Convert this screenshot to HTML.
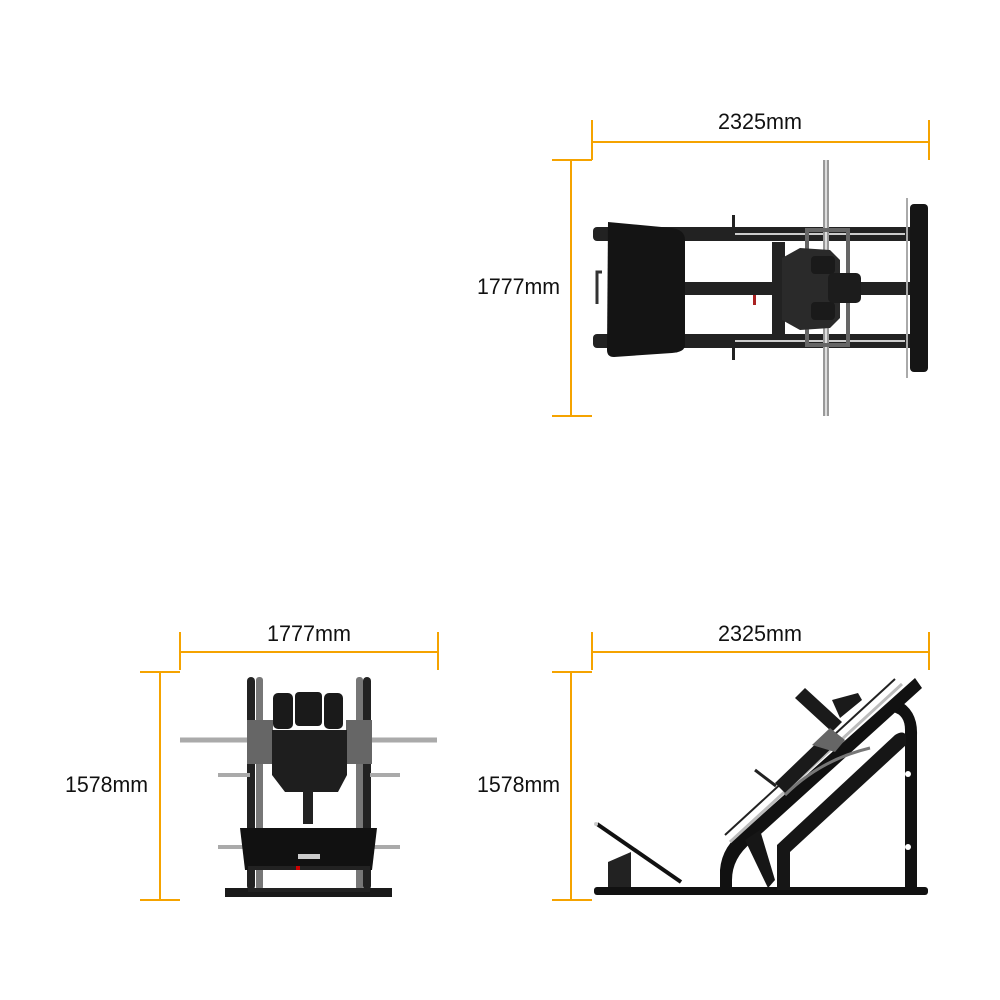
<!DOCTYPE html>
<html><head><meta charset="utf-8"><style>
html,body{margin:0;padding:0;background:#fff;}
svg{display:block;}
text{font-family:"Liberation Sans",sans-serif;font-size:22px;fill:#111;}
</style></head><body>
<svg width="1000" height="1000" viewBox="0 0 1000 1000" xmlns="http://www.w3.org/2000/svg">
<g stroke="#f5a300" stroke-width="2" fill="none">
 <line x1="592" y1="142" x2="929" y2="142"/>
 <line x1="592" y1="120" x2="592" y2="160"/>
 <line x1="929" y1="120" x2="929" y2="160"/>
 <line x1="571" y1="160" x2="571" y2="416"/>
 <line x1="552" y1="160" x2="592" y2="160"/>
 <line x1="552" y1="416" x2="592" y2="416"/>
 <line x1="180" y1="652" x2="438" y2="652"/>
 <line x1="180" y1="632" x2="180" y2="670"/>
 <line x1="438" y1="632" x2="438" y2="670"/>
 <line x1="160" y1="672" x2="160" y2="900"/>
 <line x1="140" y1="672" x2="180" y2="672"/>
 <line x1="140" y1="900" x2="180" y2="900"/>
 <line x1="592" y1="652" x2="929" y2="652"/>
 <line x1="592" y1="632" x2="592" y2="670"/>
 <line x1="929" y1="632" x2="929" y2="670"/>
 <line x1="571" y1="672" x2="571" y2="900"/>
 <line x1="552" y1="672" x2="592" y2="672"/>
 <line x1="552" y1="900" x2="592" y2="900"/>
</g>
<text x="718" y="129" textLength="84" lengthAdjust="spacingAndGlyphs">2325mm</text>
<text x="477" y="294" textLength="83" lengthAdjust="spacingAndGlyphs">1777mm</text>
<text x="267" y="641" textLength="84" lengthAdjust="spacingAndGlyphs">1777mm</text>
<text x="65" y="792" textLength="83" lengthAdjust="spacingAndGlyphs">1578mm</text>
<text x="718" y="641" textLength="84" lengthAdjust="spacingAndGlyphs">2325mm</text>
<text x="477" y="792" textLength="83" lengthAdjust="spacingAndGlyphs">1578mm</text>

<!-- TOP VIEW -->
<g>
 <rect x="772" y="242" width="13" height="92" fill="#222"/>
 <rect x="593" y="227" width="327" height="14" rx="4" fill="#222"/>
 <rect x="593" y="334" width="327" height="14" rx="4" fill="#222"/>
 <rect x="685" y="282" width="225" height="13" fill="#222"/>
 <line x1="735" y1="234" x2="905" y2="234" stroke="#ccc" stroke-width="2"/>
 <line x1="735" y1="341" x2="905" y2="341" stroke="#ccc" stroke-width="2"/>
 <line x1="826" y1="160" x2="826" y2="416" stroke="#999" stroke-width="6"/>
 <line x1="826" y1="160" x2="826" y2="416" stroke="#ddd" stroke-width="2"/>
 <rect x="807" y="230" width="41" height="115" fill="none" stroke="#666" stroke-width="4"/>
 <path d="M782 258 L800 248 L830 250 L840 260 L840 318 L830 328 L800 330 L782 320 Z" fill="#2a2a2a"/>
 <rect x="811" y="256" width="24" height="18" rx="4" fill="#1a1a1a"/>
 <rect x="811" y="302" width="24" height="18" rx="4" fill="#1a1a1a"/>
 <rect x="828" y="273" width="33" height="30" rx="5" fill="#1c1c1c"/>
 <path d="M608 222 L672 228 Q685 230 685 240 L685 345 Q685 352 672 353 L614 357 Q607 357 607 350 Z" fill="#141414"/>
 <rect x="910" y="204" width="18" height="168" rx="4" fill="#151515"/>
 <line x1="907" y1="198" x2="907" y2="378" stroke="#aaa" stroke-width="2"/>
 <path d="M602 272 h-5 v32" stroke="#333" stroke-width="3" fill="none"/>
 <rect x="753" y="295" width="3" height="10" fill="#a22"/>
 <rect x="732" y="215" width="3" height="12" fill="#222"/>
 <rect x="732" y="348" width="3" height="12" fill="#222"/>
</g>

<!-- FRONT VIEW -->
<g>
 <rect x="225" y="888" width="167" height="9" fill="#1a1a1a"/>
 <rect x="247" y="677" width="8" height="213" rx="4" fill="#222"/>
 <rect x="256" y="677" width="7" height="213" rx="3" fill="#777"/>
 <rect x="356" y="677" width="7" height="213" rx="3" fill="#777"/>
 <rect x="363" y="677" width="8" height="213" rx="4" fill="#222"/>
 <line x1="180" y1="740" x2="437" y2="740" stroke="#aaa" stroke-width="5"/>
 <line x1="218" y1="775" x2="250" y2="775" stroke="#aaa" stroke-width="4"/>
 <line x1="370" y1="775" x2="400" y2="775" stroke="#aaa" stroke-width="4"/>
 <line x1="218" y1="847" x2="250" y2="847" stroke="#aaa" stroke-width="4"/>
 <line x1="370" y1="847" x2="400" y2="847" stroke="#aaa" stroke-width="4"/>
 <rect x="247" y="720" width="26" height="44" fill="#666"/>
 <rect x="346" y="720" width="26" height="44" fill="#666"/>
 <rect x="273" y="693" width="20" height="36" rx="5" fill="#1a1a1a"/>
 <rect x="295" y="692" width="27" height="34" rx="4" fill="#1a1a1a"/>
 <rect x="324" y="693" width="19" height="36" rx="5" fill="#1a1a1a"/>
 <path d="M272 730 L347 730 L347 775 L338 792 L285 792 L272 775 Z" fill="#1e1e1e"/>
 <rect x="303" y="790" width="10" height="34" fill="#222"/>
 <path d="M240 828 L377 828 L372 870 L245 870 Z" fill="#111"/>
 <rect x="250" y="868" width="118" height="22" fill="none" stroke="#222" stroke-width="4"/>
 <rect x="298" y="854" width="22" height="5" fill="#ccc"/>
 <rect x="296" y="866" width="4" height="4" fill="#c00"/>
</g>

<!-- SIDE VIEW -->
<g>
 <rect x="594" y="887" width="334" height="8" rx="3" fill="#111"/>
 <path d="M905 890 L905 730 Q905 715 893 712 L898 700 Q918 710 917 735 L917 890 Z" fill="#111"/>
 <circle cx="908" cy="774" r="3" fill="#fff"/>
 <circle cx="908" cy="847" r="3" fill="#fff"/>
 <path d="M720 890 L720 870 Q722 845 745 830 L915 678 L922 688 L752 842 Q732 858 732 880 L732 890 Z" fill="#111"/>
 <path d="M777 890 L777 845 L895 735 Q903 730 906 735 L906 745 L790 852 L790 890 Z" fill="#161616"/>
 <polygon points="745,840 760,830 775,880 768,888" fill="#161616"/>
 <line x1="730" y1="842" x2="902" y2="684" stroke="#bbb" stroke-width="3"/>
 <line x1="725" y1="835" x2="895" y2="679" stroke="#222" stroke-width="2"/>
 <!-- sled -->
 <polygon points="775,783 830,730 840,740 785,793" fill="#1a1a1a"/>
 <polygon points="795,698 805,688 842,722 832,732" fill="#1a1a1a"/>
 <polygon points="832,700 858,693 862,700 840,718" fill="#1a1a1a"/>
 <polygon points="812,745 830,728 845,740 835,752" fill="#666"/>
 <path d="M785 795 Q820 760 870 748" stroke="#777" stroke-width="3" fill="none"/>
 <line x1="755" y1="770" x2="776" y2="786" stroke="#222" stroke-width="3"/>
 <line x1="597" y1="824" x2="681" y2="882" stroke="#111" stroke-width="4"/>
 <polygon points="608,862 631,852 631,887 608,887" fill="#222"/>
 <circle cx="596" cy="824" r="2" fill="#ccc"/>
</g>
</svg>
</body></html>
